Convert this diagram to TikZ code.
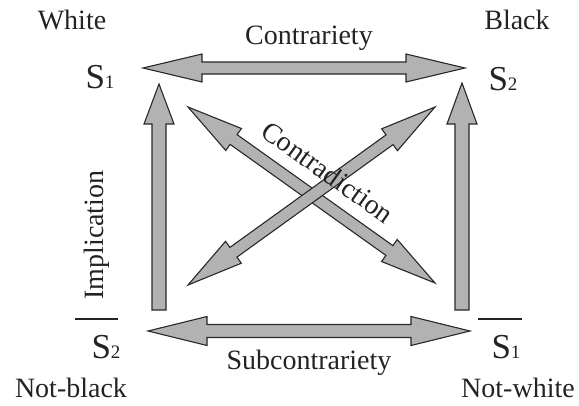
\documentclass[tikz,border=0pt]{standalone}
\usepackage{fontspec}
\setmainfont{Liberation Serif}
\usetikzlibrary{calc}
\definecolor{arrowfill}{RGB}{178,178,178}
\definecolor{arrowline}{RGB}{40,40,40}
\definecolor{txt}{RGB}{35,35,35}
\newcommand{\subnum}[1]{{\fontsize{19}{19}\selectfont #1}}
% double block arrow: #1 start, #2 end, #3 head length, #4 head half width, #5 shaft half width
\newcommand{\dblarrow}[5]{%
 \coordinate (ha) at ($(#1)!#3!(#2)$);
 \coordinate (hb) at ($(#2)!#3!(#1)$);
 \filldraw[blockarrow] (#1)
   -- ($(ha)!#4!90:(#2)$) -- ($(ha)!#5!90:(#2)$)
   -- ($(hb)!#5!90:(#2)$) -- ($(hb)!#4!90:(#2)$)
   -- (#2)
   -- ($(hb)!#4!-90:(#2)$) -- ($(hb)!#5!-90:(#2)$)
   -- ($(ha)!#5!-90:(#2)$) -- ($(ha)!#4!-90:(#2)$) -- cycle;}
% single block arrow: #1 tail, #2 tip
\newcommand{\sglarrow}[5]{%
 \coordinate (hb) at ($(#2)!#3!(#1)$);
 \filldraw[blockarrow] ($(#1)!#5!90:(#2)$) -- ($(hb)!#5!90:(#2)$)
   -- ($(hb)!#4!90:(#2)$) -- (#2) -- ($(hb)!#4!-90:(#2)$)
   -- ($(hb)!#5!-90:(#2)$) -- ($(#1)!#5!-90:(#2)$) -- cycle;}
\tikzset{
  blockarrow/.style={fill=arrowfill, draw=arrowline, line width=1.1pt, line join=miter},
  lbl/.style={text=txt, inner sep=0pt, font=\fontsize{28}{30}\selectfont},
  sym/.style={text=txt, inner sep=0pt, font=\fontsize{35}{36}\selectfont},
  bar/.style={draw=txt, line width=2.6pt}
}
\begin{document}
\begin{tikzpicture}[x=1pt,y=-1pt]
\useasboundingbox (0,0) rectangle (579,405);
% arrow end points
\coordinate (topL) at (143,68);
\coordinate (topR) at (465,68);
\coordinate (botL) at (148,331);
\coordinate (botR) at (470,331);
\coordinate (leftTail) at (159,310);
\coordinate (leftTip) at (159,84);
\coordinate (rightTail) at (462,310);
\coordinate (rightTip) at (462,83);
\coordinate (dNW) at (188,107);
\coordinate (dSE) at (435,283);
\coordinate (dSW) at (188,285);
\coordinate (dNE) at (435,107);
% arrows
\dblarrow{topL}{topR}{59pt}{14pt}{6pt}
\dblarrow{botL}{botR}{59pt}{14.5pt}{6.5pt}
\sglarrow{leftTail}{leftTip}{40pt}{15pt}{7pt}
\sglarrow{rightTail}{rightTip}{41pt}{15pt}{7pt}
\dblarrow{dNW}{dSE}{56pt}{13.5pt}{6pt}
\dblarrow{dSW}{dNE}{56pt}{13.5pt}{6pt}
% labels
\node[lbl] (white) at (72,20) {White};
\node[lbl] (black) at (517,20) {Black};
\node[sym] (s1) at (100,77) {S\subnum{1}};
\node[sym] (s2) at (503,79) {S\subnum{2}};
\node[sym] (ns2) at (106,347) {S\subnum{2}};
\node[sym] (ns1) at (506,347) {S\subnum{1}};
\draw[bar] ($(ns2)+(-31,-28)$) -- ($(ns2)+(12,-28)$);
\draw[bar] ($(ns1)+(-28,-28)$) -- ($(ns1)+(16,-28)$);
\node[lbl] (notblack) at (71,388) {Not-black};
\node[lbl] (notwhite) at (518,388) {Not-white};
\node[lbl] (contrariety) at (309,38) {Contrariety};
\node[lbl] (subcontrariety) at (309,363) {Subcontrariety};
\node[lbl, rotate=90] (implication) at (97,235) {Implication};
\node[lbl, rotate=-35.5] (contradiction) at (328,172) {Contradiction};
\end{tikzpicture}
\end{document}
